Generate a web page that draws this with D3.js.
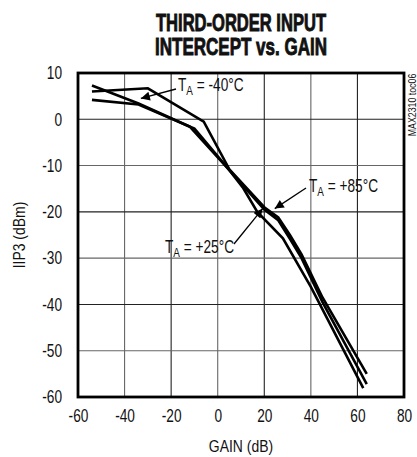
<!DOCTYPE html>
<html>
<head>
<meta charset="utf-8">
<script src="https://cdn.jsdelivr.net/npm/d3@7"></script>
<style>
  html, body { margin: 0; padding: 0; background: #fff; }
  svg { display: block; }
  text { font-family: "Liberation Sans", Arial, sans-serif; fill: #111; }
</style>
</head>
<body>
<svg id="chart" width="417" height="457"></svg>
<script>
// ---- data ----
const titleLines = ["THIRD-ORDER INPUT", "INTERCEPT vs. GAIN"];
const xTicks = [-60, -40, -20, 0, 20, 40, 60, 80];
const yTicks = [10, 0, -10, -20, -30, -40, -50, -60];

const gainM40 = [-54, -30, -6, 5, 20, 26, 31, 36, 45, 64];
const iip3M40 = [6.0, 6.7, -0.5, -10.8, -19.0, -21.2, -25.0, -29.2, -38.5, -55.0];

const gainP25 = [-54, -34, -12, 5, 11, 17, 28, 40, 62.5];
const iip3P25 = [7.3, 3.4, -1.6, -11.0, -14.9, -20.0, -25.7, -36.2, -58.1];

const gainP85 = [-54, -34, -10, 5, 20, 26, 31, 36, 45, 64];
const iip3P85 = [4.2, 3.2, -2.0, -11.0, -19.5, -21.8, -25.8, -30.0, -39.5, -57.2];

const seriesNames = ["-40°C", "+25°C", "+85°C"];

// ---- layout ----
const svg = d3.select("#chart");
const L = 78, R = 404, T = 73, B = 397;
const x = d3.scaleLinear().domain([-60, 80]).range([L, R]);
const y = d3.scaleLinear().domain([-60, 10]).range([B, T]);
const F = 0.76; // horizontal condensing of text

function condense(sel, f) {
  sel.each(function () {
    const ax = +this.getAttribute("x") || 0;
    const prev = this.getAttribute("transform") || "";
    this.setAttribute("transform", `${prev} translate(${ax},0) scale(${f},1) translate(${-ax},0)`);
  });
}

// title
svg.append("g").selectAll("text").data(titleLines).join("text")
  .attr("x", 241).attr("y", (d, i) => 31 + i * 23.5)
  .attr("text-anchor", "middle")
  .attr("font-size", 23.5).attr("font-weight", "bold")
  .attr("stroke", "#111").attr("stroke-width", 0.9)
  .attr("textLength", (d, i) => i ? 172 : 170)
  .attr("lengthAdjust", "spacingAndGlyphs")
  .text(d => d);

// grid
const grid = svg.append("g");
grid.selectAll("line.v").data(xTicks.slice(1, -1)).join("line")
  .attr("x1", d => x(d)).attr("x2", d => x(d)).attr("y1", T).attr("y2", B)
  .attr("stroke", (d, i) => i % 2 ? "#222" : "#666").attr("stroke-width", 1.1);
grid.selectAll("line.h").data(yTicks.slice(1, -1)).join("line")
  .attr("y1", d => y(d)).attr("y2", d => y(d)).attr("x1", L).attr("x2", R)
  .attr("stroke", (d, i) => i % 2 ? "#666" : "#222").attr("stroke-width", 1.1);

// axes (labels only)
const xAxis = svg.append("g").attr("transform", `translate(0,${B})`)
  .call(d3.axisBottom(x).tickValues(xTicks).tickSize(0).tickPadding(11).tickFormat(d => String(d)));
const yAxis = svg.append("g").attr("transform", `translate(${L},0)`)
  .call(d3.axisLeft(y).tickValues(yTicks).tickSize(0).tickPadding(16).tickFormat(d => String(d)));
[xAxis, yAxis].forEach(a => {
  a.select(".domain").remove();
  a.selectAll("text").attr("font-size", 18).attr("fill", "#111")
    .attr("font-family", "'Liberation Sans', Arial, sans-serif");
});
xAxis.selectAll("text").attr("dy", "0.78em");
condense(xAxis.selectAll("text"), F);
condense(yAxis.selectAll("text"), F);

// frame
svg.append("rect").attr("x", L).attr("y", T).attr("width", R - L).attr("height", B - T)
  .attr("fill", "none").attr("stroke", "#000").attr("stroke-width", 2.8);

// curves
const line = d3.line().x(d => x(d[0])).y(d => y(d[1]));
const series = [
  d3.zip(gainM40, iip3M40),
  d3.zip(gainP25, iip3P25),
  d3.zip(gainP85, iip3P85)
];
svg.append("g").selectAll("path").data(series).join("path")
  .attr("d", line).attr("fill", "none").attr("stroke", "#000")
  .attr("stroke-width", 2.6).attr("stroke-linejoin", "miter");

// annotations
svg.append("defs").append("marker").attr("id", "arr")
  .attr("viewBox", "0 0 10 10").attr("refX", 10).attr("refY", 5)
  .attr("markerWidth", 14).attr("markerHeight", 9).attr("markerUnits", "userSpaceOnUse")
  .attr("orient", "auto")
  .append("path").attr("d", "M0,0 L10,5 L0,10 Z").attr("fill", "#000");

const ann = [
  { name: seriesNames[0], tx: 178, ty: 91, x1: 176, y1: 89, x2: -33, y2: 4.5 },
  { name: seriesNames[2], tx: 309, ty: 192, x1: 306, y1: 188, x2: 24.5, y2: -19.3 },
  { name: seriesNames[1], tx: 165, ty: 253, x1: 234, y1: 244, x2: 19.3, y2: -19.3 }
];
ann.forEach(a => {
  svg.append("line")
    .attr("x1", a.x1).attr("y1", a.y1)
    .attr("x2", x(a.x2)).attr("y2", y(a.y2))
    .attr("stroke", "#000").attr("stroke-width", 1.3)
    .attr("marker-end", "url(#arr)");
  const t = svg.append("text").attr("x", a.tx).attr("y", a.ty).attr("font-size", 18);
  t.append("tspan").text("T");
  t.append("tspan").attr("font-size", 13).attr("dy", 4).text("A");
  t.append("tspan").attr("dy", -4).text(" = " + a.name);
  condense(t, F);
});

// axis titles
const xt = svg.append("text").attr("x", 241).attr("y", 452).attr("text-anchor", "middle")
  .attr("font-size", 17).text("GAIN (dB)");
condense(xt, 0.82);
svg.append("text").attr("transform", `translate(25,${(T + B) / 2}) rotate(-90) scale(0.82,1)`)
  .attr("text-anchor", "middle").attr("font-size", 17).text("IIP3 (dBm)");

// chart id
svg.append("text").attr("transform", "translate(416,105) rotate(-90) scale(0.8,1)")
  .attr("text-anchor", "middle").attr("font-size", 11).attr("fill", "#333").text("MAX2310 toc06");
</script>
</body>
</html>
